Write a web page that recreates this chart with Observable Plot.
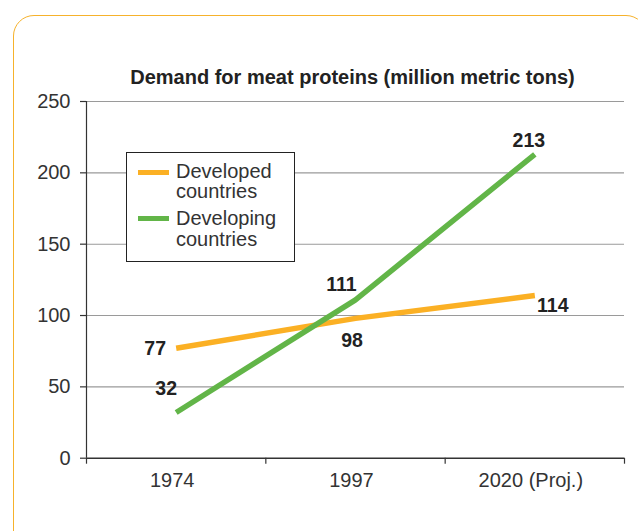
<!DOCTYPE html>
<html>
<head>
<meta charset="utf-8">
<script src="https://cdn.jsdelivr.net/npm/d3@7"></script>
<script src="https://cdn.jsdelivr.net/npm/@observablehq/plot@0.6"></script>
<style>
  html, body { margin: 0; padding: 0; background: #fff; }
  #wrap { position: relative; width: 638px; height: 531px; overflow: hidden; font-family: "Liberation Sans", Arial, Helvetica, sans-serif; }
  #frame { position: absolute; left: 12.5px; top: 14.5px; width: 634px; height: 600px; border: 1.6px solid #F6B22C; border-radius: 21px; box-sizing: border-box; }
  #chart { position: absolute; left: 0; top: 0; }
  #title { position: absolute; left: 83px; top: 67.4px; width: 539px; text-align: center; font-size: 20px; line-height: 20px; font-weight: bold; color: #222; white-space: nowrap; }
  #legend { position: absolute; left: 126px; top: 152px; width: 169px; height: 110px; box-sizing: border-box; border: 1.2px solid #222; background: #fff; }
  .sw { position: absolute; left: 11px; width: 31px; height: 5px; }
  .lt { position: absolute; left: 49px; font-size: 20px; line-height: 20.5px; color: #333; white-space: nowrap; }
</style>
</head>
<body>
<div id="wrap">
  <div id="frame"></div>
  <div id="chart"></div>
  <div id="title"></div>
  <div id="legend"></div>
</div>
<script>
const title = "Demand for meat proteins (million metric tons)";
const categories = ["1974", "1997", "2020 (Proj.)"];
const seriesNames = ["Developed countries", "Developing countries"];
const legendLines = [["Developed", "countries"], ["Developing", "countries"]];
const developed = [77, 98, 114];
const developing = [32, 111, 213];
const yTicks = [0, 50, 100, 150, 200, 250];
const colors = ["#FBB024", "#62B548"];
// label offsets (dx, dy) for each value label, in order developed then developing
const labelOffsets = [[-21, 0], [-3.5, 22], [18, 10], [-10, -24], [-14, -15], [-6, -14]];

const rows = [];
developed.forEach((v, i) => rows.push({series: seriesNames[0], i, value: v}));
developing.forEach((v, i) => rows.push({series: seriesNames[1], i, value: v}));

const chart = Plot.plot({
  width: 638,
  height: 531,
  marginLeft: 86,
  marginRight: 14,
  marginTop: 101,
  marginBottom: 73.3,
  style: {fontFamily: "Liberation Sans, Arial, sans-serif", background: "transparent", overflow: "visible"},
  x: {type: "linear", domain: [-0.5, categories.length - 0.5], axis: null},
  y: {domain: [0, 250], axis: null},
  color: {domain: seriesNames, range: colors},
  marks: [
    Plot.gridY(yTicks.filter(t => t > 0), {stroke: "#9a9a9a", strokeOpacity: 1, strokeWidth: 1.1}),
    Plot.axisY(yTicks, {label: null, tickSize: 6, tickPadding: 10, fontSize: 20, fill: "#333", stroke: "#333", strokeWidth: 1.2}),
    Plot.axisX(d3.range(categories.length), {label: null, tickSize: 0, tickPadding: 15, fontSize: 20, fill: "#333", dx: -4, tickFormat: i => categories[i]}),
    Plot.axisX(d3.range(categories.length + 1).map(i => i - 0.5), {label: null, tickSize: 6, stroke: "#333", strokeWidth: 1.2, tickFormat: () => ""}),
    Plot.ruleX([-0.5], {stroke: "#333", strokeWidth: 1.2}),
    Plot.ruleY([0], {stroke: "#333", strokeWidth: 1.4}),
    Plot.line(rows, {x: "i", y: "value", z: "series", stroke: "series", strokeWidth: 5.5, strokeLinecap: "butt", strokeLinejoin: "round"}),
    ...rows.map((r, k) => Plot.text([r], {
      x: "i", y: "value", text: d => String(d.value),
      dx: labelOffsets[k][0], dy: labelOffsets[k][1],
      fontSize: 19.5, fontWeight: "bold", fill: "#222", textAnchor: "middle"
    }))
  ]
});
document.getElementById("chart").appendChild(chart);
document.getElementById("title").textContent = title;

const legend = document.getElementById("legend");
const swatchTops = [16.5, 62.5];
const textTops = [7.8, 55.2];
seriesNames.forEach((name, k) => {
  const sw = document.createElement("div");
  sw.className = "sw";
  sw.style.top = swatchTops[k] + "px";
  sw.style.background = colors[k];
  legend.appendChild(sw);
  const t = document.createElement("div");
  t.className = "lt";
  t.style.top = textTops[k] + "px";
  t.innerHTML = legendLines[k].join("<br>");
  legend.appendChild(t);
});
</script>
</body>
</html>
